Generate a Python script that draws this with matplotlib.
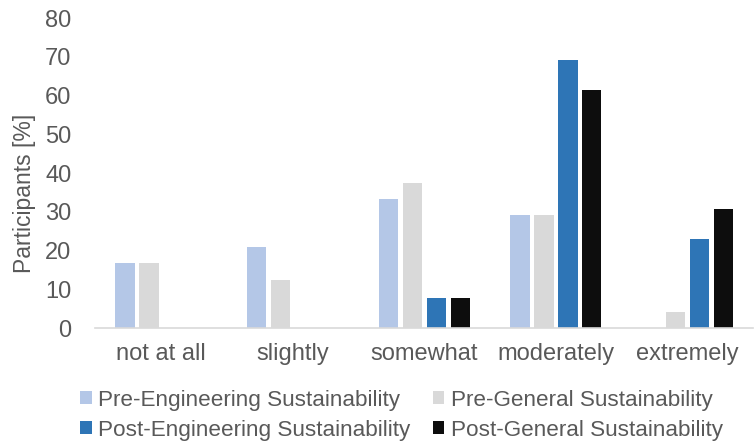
import numpy as np
import matplotlib
matplotlib.use("Agg")
import matplotlib.pyplot as plt

plt.rcParams["font.family"] = ["Liberation Sans", "DejaVu Sans"]

categories = ["not at all", "slightly", "somewhat", "moderately", "extremely"]
series_names = [
    "Pre-Engineering Sustainability",
    "Pre-General Sustainability",
    "Post-Engineering Sustainability",
    "Post-General Sustainability",
]
pre_eng = [16.7, 20.8, 33.3, 29.2, 0.0]
pre_gen = [16.7, 12.5, 37.5, 29.2, 4.2]
post_eng = [0.0, 0.0, 7.7, 69.2, 23.1]
post_gen = [0.0, 0.0, 7.7, 61.5, 30.8]
yticks = [0, 10, 20, 30, 40, 50, 60, 70, 80]

colors = ["#B4C7E7", "#D9D9D9", "#2E75B6", "#0D0D0D"]
text_col = "#595959"

fig = plt.figure(figsize=(7.55, 4.41), dpi=100)
ax = fig.add_axes([0.126, 0.256, 0.872, 0.703])

x = np.arange(len(categories))
width = 0.145
pitch = 0.182
handles = []
for i, (vals, c, name) in enumerate(zip([pre_eng, pre_gen, post_eng, post_gen], colors, series_names)):
    b = ax.bar(x + (i - 1.5) * pitch, vals, width, color=c, label=name)
    handles.append(b)

ax.set_xlim(-0.5, len(categories) - 0.5)
ax.set_ylim(0, 80)
ax.set_yticks(yticks)
ax.set_xticks(x)
ax.set_xticklabels(categories)
ax.tick_params(axis="both", length=0, labelsize=17, colors=text_col)
ax.tick_params(axis="x", pad=11)
ax.tick_params(axis="y", pad=17)
for s in ["top", "right", "left"]:
    ax.spines[s].set_visible(False)
ax.spines["bottom"].set_color("#D9D9D9")
ax.spines["bottom"].set_linewidth(1.2)

ax.set_ylabel("Participants [%]", fontsize=16.5, color=text_col)
ax.yaxis.set_label_coords(-0.09, 0.435)

order = [0, 2, 1, 3]
leg = fig.legend([handles[k] for k in order], [series_names[k] for k in order],
                 ncol=2, loc="lower center", bbox_to_anchor=(0.532, -0.045),
                 frameon=False, fontsize=16.2, handlelength=0.5, handleheight=0.5,
                 handletextpad=0.3, columnspacing=1.0, labelspacing=0.4)
for t in leg.get_texts():
    t.set_color(text_col)

plt.savefig("out.png", dpi=100)
